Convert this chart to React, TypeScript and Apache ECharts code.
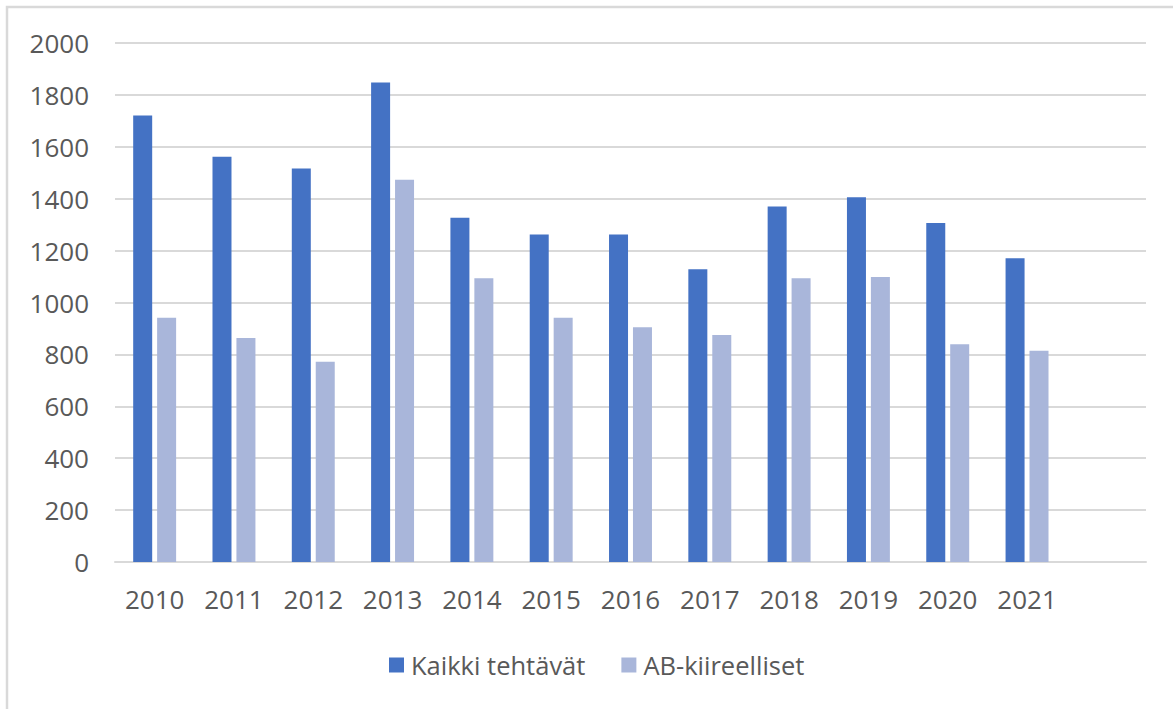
import React, { useEffect, useRef } from "react";
import * as echarts from "echarts";

const years = ["2010", "2011", "2012", "2013", "2014", "2015", "2016", "2017", "2018", "2019", "2020", "2021", ""];
const kaikki = [1721, 1562, 1516, 1848, 1327, 1262, 1262, 1128, 1370, 1406, 1306, 1171];
const ab = [941, 863, 772, 1473, 1093, 941, 905, 875, 1093, 1098, 839, 814];
const seriesNames = ["Kaikki tehtävät", "AB-kiireelliset"];

export default function App() {
  const ref = useRef<HTMLDivElement>(null);
  useEffect(() => {
    document.body.style.margin = "0";
    const chart = echarts.init(ref.current!, null, { renderer: "svg" });
    const font = "'Open Sans', 'Noto Sans', sans-serif";
    chart.setOption({
      animation: false,
      backgroundColor: "#ffffff",
      textStyle: { fontFamily: font },
      graphic: [
        {
          type: "rect",
          shape: { x: 7, y: 7, width: 1200, height: 800 },
          style: { fill: "none", stroke: "#D9D9D9", lineWidth: 2.5 },
          silent: true,
        },
      ],
      grid: { left: 115, right: 27, top: 43, bottom: 147, containLabel: false },
      legend: {
        left: 389,
        top: 652,
        padding: 0,
        itemWidth: 15,
        itemHeight: 15,
        itemGap: 36,
        icon: "rect",
        textStyle: { fontSize: 25.5, color: "#595959", fontFamily: font, padding: [0, 0, 0, 2] },
        data: seriesNames,
      },
      xAxis: {
        type: "category",
        data: years,
        axisLine: { show: true, lineStyle: { color: "#D9D9D9", width: 2 } },
        axisTick: { show: false },
        axisLabel: { color: "#595959", fontSize: 26, margin: 24, fontFamily: font },
      },
      yAxis: {
        type: "value",
        min: 0,
        max: 2000,
        interval: 200,
        axisLine: { show: false },
        axisTick: { show: false },
        splitLine: { lineStyle: { color: "#D9D9D9", width: 2 } },
        axisLabel: {
          color: "#595959",
          fontSize: 26,
          margin: 26,
          fontFamily: font,
          formatter: (v: number) => String(v),
        },
      },
      series: [
        {
          name: seriesNames[0],
          type: "bar",
          data: kaikki,
          barWidth: 19,
          barGap: "26%",
          itemStyle: { color: "#4472C4" },
        },
        {
          name: seriesNames[1],
          type: "bar",
          data: ab,
          barWidth: 19,
          barGap: "26%",
          itemStyle: { color: "#A9B6DA" },
        },
      ],
    });
    return () => chart.dispose();
  }, []);
  return <div ref={ref} style={{ width: 1173, height: 709 }} />;
}
